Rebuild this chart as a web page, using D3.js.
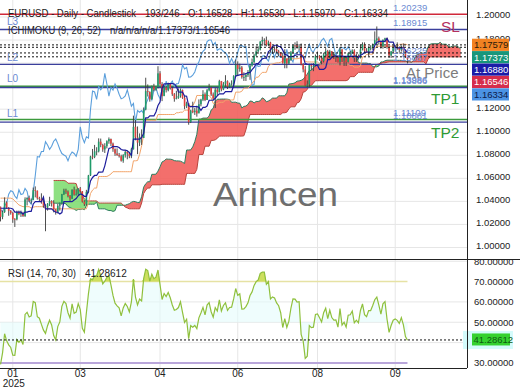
<!DOCTYPE html>
<html>
<head>
<meta charset="utf-8">
<script src="https://cdn.jsdelivr.net/npm/d3@7"></script>
<style>
body { margin: 0; background: #fff; }
svg { display: block; font-family: "Liberation Sans", Arial, sans-serif; }
</style>
</head>
<body>
<script>
// history before the first visible bar (only feeds the indicators)
const preClose = [1.1132,1.1116,1.1117,1.1162,1.1163,1.1112,1.1178,1.1133,1.1177,1.1164,1.1135,
  1.1068,1.1046,1.1032,1.0974,1.0975,1.0978,1.0942,1.0936,1.0937,1.0910,1.0891,1.0862,1.0833,1.0867,1.0817,1.0798,1.0782,1.0829,1.0797,1.0815,1.0817,1.0855,1.0884,
  1.0834,1.0880,1.0930,1.0729,1.0800,1.0720,1.0655,1.0625,1.0565,1.0530,1.0541,1.0597,1.0596,1.0543,1.0472,1.0418,1.0496,1.0487,1.0566,1.0551,1.0577,
  1.0497,1.0512,1.0512,1.0586,1.0567,1.0554,1.0529,1.0496,1.0469,1.0502,1.0512,1.0490,1.0352,1.0364,1.0430,1.0405,1.0406,1.0400,1.0422,1.0428,1.0405,1.0354];
const preHigh = [1.1140,1.1150,1.1190,1.1180,1.1180,1.1170,1.1190,1.1214,1.1190,1.1200,1.1180,
  1.1145,1.1085,1.1055,1.1045,1.0990,1.0990,1.0985,1.0950,1.0950,1.0945,1.0915,1.0900,1.0870,1.0870,1.0870,1.0835,1.0800,1.0840,1.0840,1.0825,1.0830,1.0870,1.0885,
  1.0905,1.0905,1.0937,1.0930,1.0810,1.0805,1.0730,1.0665,1.0630,1.0580,1.0575,1.0610,1.0610,1.0610,1.0550,1.0475,1.0530,1.0510,1.0575,1.0580,1.0595,
  1.0570,1.0545,1.0545,1.0600,1.0630,1.0595,1.0560,1.0545,1.0510,1.0525,1.0525,1.0530,1.0505,1.0420,1.0445,1.0445,1.0420,1.0415,1.0445,1.0455,1.0455,1.0420];
const preLow = [1.1070,1.1105,1.1090,1.1085,1.1140,1.1085,1.1105,1.1120,1.1120,1.1150,1.1130,
  1.1045,1.1030,1.1005,1.0950,1.0955,1.0955,1.0935,1.0915,1.0920,1.0905,1.0880,1.0855,1.0810,1.0825,1.0810,1.0790,1.0761,1.0775,1.0790,1.0790,1.0790,1.0810,1.0840,
  1.0830,1.0850,1.0870,1.0682,1.0710,1.0710,1.0650,1.0595,1.0560,1.0496,1.0510,1.0525,1.0530,1.0525,1.0460,1.0335,1.0425,1.0425,1.0480,1.0540,1.0540,
  1.0460,1.0490,1.0470,1.0505,1.0545,1.0535,1.0510,1.0480,1.0455,1.0450,1.0485,1.0475,1.0345,1.0345,1.0345,1.0385,1.0380,1.0390,1.0390,1.0405,1.0390,1.0345];

// visible daily bars
const close = [1.0266,1.0308,1.0390,1.0345,1.0318,1.0300,1.0245,1.0244,1.0307,1.0290,
  1.0300,1.0273,1.0417,1.0430,1.0407,1.0413,1.0497,1.0492,1.0428,1.0421,
  1.0391,1.0362,1.0345,1.0378,1.0403,1.0382,1.0330,1.0307,1.0362,1.0383,
  1.0463,1.0493,1.0484,1.0447,1.0424,1.0500,1.0459,1.0465,1.0512,1.0487,
  1.0398,1.0376,1.0482,1.0625,1.0789,1.0785,1.0833,1.0834,1.0918,1.0890,
  1.0851,1.0879,1.0922,1.0941,1.0901,1.0853,1.0815,1.0802,1.0792,1.0753,
  1.0801,1.0829,1.0816,1.0792,1.0852,1.1047,1.0955,1.0910,1.0961,1.0950,
  1.1197,1.1357,1.1349,1.1285,1.1397,1.1369,1.1392,1.1511,1.1419,1.1313,
  1.1389,1.1366,1.1418,1.1381,1.1330,1.1291,1.1298,1.1315,1.1367,1.1299,
  1.1226,1.1250,1.1088,1.1188,1.1174,1.1188,1.1163,1.1243,1.1283,1.1330,
  1.1280,1.1364,1.1386,1.1328,1.1292,1.1369,1.1347,1.1443,1.1371,1.1420,
  1.1443,1.1397,1.1420,1.1422,1.1487,1.1585,1.1549,1.1562,1.1478,1.1480,
  1.1496,1.1523,1.1579,1.1609,1.1666,1.1702,1.1718,1.1787,1.1800,1.1800,
  1.1756,1.1779,1.1710,1.1724,1.1720,1.1701,1.1690,1.1663,1.1598,1.1639,
  1.1597,1.1626,1.1694,1.1753,1.1752,1.1740,1.1742,1.1589,1.1545,1.1405,
  1.1415,1.1587,1.1572,1.1575,1.1660,1.1664,1.1641,1.1617,1.1675,1.1705,
  1.1648,1.1703,1.1662,1.1648,1.1649,1.1610,1.1719,1.1622,1.1640,1.1609,
  1.1683,1.1686,1.1710,1.1645,1.1660,1.1646,1.1718,1.1762,1.1707,1.1696,
  1.1733,1.1733,1.1762,1.1798,1.1814,1.1783,1.1745,1.1802,1.1815,1.1738,
  1.1666,1.1701,1.1729,1.1735,1.1729,1.1715,1.1741,1.1710,1.16528,1.16334];
const high = [1.0354,1.0320,1.0435,1.0400,1.0350,1.0325,1.0310,1.0255,1.0320,1.0320,
  1.0320,1.0310,1.0435,1.0435,1.0450,1.0425,1.0520,1.0530,1.0495,1.0440,
  1.0470,1.0440,1.0375,1.0385,1.0440,1.0410,1.0410,1.0335,1.0380,1.0390,
  1.0465,1.0510,1.0510,1.0495,1.0455,1.0505,1.0528,1.0505,1.0515,1.0525,
  1.0490,1.0410,1.0500,1.0630,1.0796,1.0855,1.0890,1.0870,1.0947,1.0945,
  1.0900,1.0905,1.0930,1.0955,1.0945,1.0910,1.0860,1.0860,1.0820,1.0805,
  1.0810,1.0845,1.0840,1.0830,1.0865,1.1144,1.1105,1.1050,1.0990,1.1025,
  1.1215,1.1473,1.1415,1.1355,1.1405,1.1420,1.1395,1.1573,1.1530,1.1435,
  1.1405,1.1395,1.1430,1.1425,1.1395,1.1340,1.1360,1.1380,1.1380,1.1370,
  1.1315,1.1265,1.1250,1.1195,1.1265,1.1210,1.1230,1.1285,1.1290,1.1365,
  1.1345,1.1375,1.1420,1.1395,1.1345,1.1385,1.1385,1.1455,1.1445,1.1435,
  1.1495,1.1450,1.1430,1.1450,1.1495,1.1631,1.1615,1.1595,1.1575,1.1520,
  1.1510,1.1540,1.1585,1.1640,1.1680,1.1745,1.1745,1.1790,1.1829,1.1815,
  1.1830,1.1795,1.1785,1.1740,1.1745,1.1755,1.1715,1.1695,1.1690,1.1720,
  1.1640,1.1660,1.1705,1.1760,1.1780,1.1790,1.1765,1.1770,1.1600,1.1575,
  1.1450,1.1595,1.1595,1.1600,1.1675,1.1700,1.1670,1.1665,1.1690,1.1730,
  1.1715,1.1715,1.1705,1.1695,1.1665,1.1660,1.1740,1.1720,1.1660,1.1655,
  1.1690,1.1705,1.1720,1.1720,1.1680,1.1675,1.1760,1.1780,1.1780,1.1730,
  1.1745,1.1755,1.1770,1.1875,1.1918,1.1830,1.1795,1.1805,1.1820,1.1820,
  1.1745,1.1705,1.1755,1.1755,1.1780,1.1745,1.1750,1.1770,1.1715,1.16530];
const low = [1.0226,1.0245,1.0300,1.0335,1.0275,1.0285,1.0214,1.0178,1.0235,1.0280,
  1.0265,1.0265,1.0265,1.0365,1.0395,1.0380,1.0410,1.0435,1.0415,1.0400,
  1.0380,1.0345,1.0141,1.0320,1.0360,1.0355,1.0305,1.0285,1.0295,1.0320,
  1.0370,1.0455,1.0465,1.0435,1.0400,1.0420,1.0450,1.0450,1.0455,1.0475,
  1.0390,1.0360,1.0365,1.0470,1.0620,1.0765,1.0775,1.0800,1.0825,1.0870,
  1.0830,1.0820,1.0860,1.0900,1.0880,1.0830,1.0795,1.0795,1.0780,1.0745,
  1.0735,1.0780,1.0765,1.0775,1.0775,1.0850,1.0930,1.0810,1.0880,1.0890,
  1.0950,1.1190,1.1310,1.1265,1.1285,1.1355,1.1360,1.1380,1.1405,1.1270,
  1.1315,1.1345,1.1355,1.1370,1.1315,1.1265,1.1285,1.1290,1.1300,1.1290,
  1.1200,1.1210,1.1065,1.1080,1.1165,1.1150,1.1135,1.1170,1.1225,1.1270,
  1.1270,1.1280,1.1355,1.1315,1.1280,1.1210,1.1315,1.1345,1.1355,1.1365,
  1.1395,1.1375,1.1385,1.1405,1.1405,1.1480,1.1490,1.1525,1.1465,1.1445,
  1.1445,1.1480,1.1455,1.1570,1.1595,1.1660,1.1680,1.1710,1.1750,1.1760,
  1.1745,1.1750,1.1690,1.1680,1.1690,1.1690,1.1660,1.1655,1.1595,1.1555,
  1.1555,1.1590,1.1620,1.1680,1.1715,1.1725,1.1710,1.1580,1.1520,1.1400,
  1.1391,1.1390,1.1540,1.1530,1.1570,1.1630,1.1620,1.1590,1.1605,1.1665,
  1.1630,1.1640,1.1650,1.1635,1.1610,1.1605,1.1580,1.1610,1.1575,1.1575,
  1.1605,1.1655,1.1680,1.1610,1.1610,1.1630,1.1640,1.1710,1.1695,1.1690,
  1.1660,1.1710,1.1715,1.1760,1.1760,1.1760,1.1725,1.1725,1.1780,1.1725,
  1.1645,1.1645,1.1690,1.1700,1.1715,1.1690,1.1700,1.1650,1.1645,1.15970];

// axis ticks
const priceTicks = [1.00, 1.02, 1.04, 1.06, 1.08, 1.10, 1.12, 1.14, 1.16, 1.18, 1.20];
const rsiTicks = [30, 40, 50, 60, 70, 80];
const monthTickBars = [6, 39, 78, 116, 155, 193];
const monthTickLabels = ["01", "03", "04", "06", "08", "09"];

// horizontal levels and current-value tags
const levelValues = [1.20239, 1.18915, 1.15887, 1.13986, 1.13886, 1.11109, 1.10881];
const levelColors = ["#d0283a", "#3b3f9c", "#3b3f9c", "#3c9a3c", "#3b3f9c", "#3c9a3c", "#3b3f9c"];
const extraLevelTexts = [1.16225];
const tagValues = [1.17579, 1.17373, 1.16880, 1.16546, 1.16334];
const tagFill = ["#f28222", "#17967a", "#1b1ba8", "#d62d4c", "#4b93e4"];
const tagText = ["#2a1a0a", "#ffffff", "#ffffff", "#ffffff", "#0d1b4a"];
const dottedValues = [1.17579, 1.17373, 1.16880, 1.16546];
const rsiLast = 41.28612;

const plotR = 467, priceB = 259, rsiT = 259, rsiB = 368;

let svg = d3.select("body").append("svg")
    .attr("width", 520)
    .attr("height", 390);

let x = d3.scaleLinear().domain([-0.25, 228.1]).range([0, plotR]);
let yP = d3.scaleLinear().domain([0.99, 1.21475]).range([priceB, 0]);
let yR = d3.scaleLinear().domain([27.5, 81.1]).range([rsiB, rsiT]);

// ichimoku + rsi from the bars
const P = preClose.length;
const allH = preHigh.concat(high), allL = preLow.concat(low), allC = preClose.concat(close);
function mid(end, n) {
    let s = Math.max(0, end - n + 1);
    return (d3.max(allH.slice(s, end + 1)) + d3.min(allL.slice(s, end + 1))) / 2;
}
let bars = close.map((c, i) => ({ i: i, o: allC[P + i - 1], h: high[i], l: low[i], c: c }));
let tenkan = close.map((c, i) => ({ i: i, v: mid(P + i, 9) }));
let kijun = close.map((c, i) => ({ i: i, v: mid(P + i, 26) }));
let cloud = close.map((c, j) => ({ i: j + 26, a: (mid(P + j, 9) + mid(P + j, 26)) / 2, b: mid(P + j, 52) }));
let chikou = close.slice(26).map((c, k) => ({ i: k, v: c }));

let ag = 0, al = 0, rsiAll = [];
for (let k = 1; k < allC.length; k++) {
    let ch = allC[k] - allC[k - 1];
    let g = Math.max(ch, 0), l = Math.max(-ch, 0);
    if (k <= 14) { ag += g / 14; al += l / 14; }
    else { ag = (ag * 13 + g) / 14; al = (al * 13 + l) / 14; }
    rsiAll[k] = k >= 14 ? 100 - 100 / (1 + ag / al) : null;
}
let rsi = close.map((c, i) => ({ i: i, v: rsiAll[P + i] }));

let defs = svg.append("defs");
defs.append("clipPath").attr("id", "cp").append("rect")
    .attr("x", 0).attr("y", 0).attr("width", plotR).attr("height", priceB);
defs.append("clipPath").attr("id", "cr").append("rect")
    .attr("x", 0).attr("y", rsiT).attr("width", plotR).attr("height", rsiB - rsiT);

// grid
let grid = svg.append("g").attr("stroke", "#e6e6e6").attr("stroke-width", 1);
grid.selectAll(".gv").data(monthTickBars).enter().append("line")
    .attr("x1", d => x(d)).attr("x2", d => x(d))
    .attr("y1", 0).attr("y2", rsiB);
grid.selectAll(".gp").data(priceTicks).enter().append("line")
    .attr("x1", 0).attr("x2", plotR)
    .attr("y1", d => yP(d)).attr("y2", d => yP(d));
grid.selectAll(".gr").data([40, 50, 60, 80]).enter().append("line")
    .attr("x1", 0).attr("x2", plotR)
    .attr("y1", d => yR(d)).attr("y2", d => yR(d));

// price panel
let pg = svg.append("g").attr("clip-path", "url(#cp)");

pg.append("path").datum(cloud)
    .attr("fill", "#f25f5c").attr("fill-opacity", 0.9)
    .attr("d", d3.area().x(d => x(d.i)).y0(d => yP(d.b)).y1(d => yP(Math.max(d.a, d.b))));
pg.append("path").datum(cloud)
    .attr("fill", "#72d862").attr("fill-opacity", 0.8)
    .attr("d", d3.area().x(d => x(d.i)).y0(d => yP(d.a)).y1(d => yP(Math.max(d.a, d.b))));
pg.append("path").datum(cloud)
    .attr("fill", "none").attr("stroke", "#2d7d5e").attr("stroke-width", 1)
    .attr("d", d3.line().x(d => x(d.i)).y(d => yP(d.a)));
pg.append("path").datum(cloud)
    .attr("fill", "none").attr("stroke", "#b8443c").attr("stroke-width", 1)
    .attr("d", d3.line().x(d => x(d.i)).y(d => yP(d.b)));

pg.selectAll(".lvl").data(levelValues).enter().append("line")
    .attr("x1", 0).attr("x2", plotR)
    .attr("y1", d => yP(d)).attr("y2", d => yP(d))
    .attr("stroke", (d, i) => levelColors[i])
    .attr("stroke-width", 1.4);

pg.append("path").datum(chikou)
    .attr("fill", "none").attr("stroke", "#5b9fdc").attr("stroke-width", 1.1)
    .attr("d", d3.line().x(d => x(d.i)).y(d => yP(d.v)));
pg.append("path").datum(kijun)
    .attr("fill", "none").attr("stroke", "#f2a56b").attr("stroke-width", 1)
    .attr("d", d3.line().x(d => x(d.i)).y(d => yP(d.v)));

let cg = pg.append("g");
cg.selectAll(".wick").data(bars).enter().append("line")
    .attr("x1", d => x(d.i)).attr("x2", d => x(d.i))
    .attr("y1", d => yP(d.h)).attr("y2", d => yP(d.l))
    .attr("stroke", "#3a3a3a").attr("stroke-width", 0.9);
cg.selectAll(".body").data(bars).enter().append("rect")
    .attr("x", d => x(d.i) - 0.8)
    .attr("width", 1.6)
    .attr("y", d => yP(Math.max(d.o, d.c)))
    .attr("height", d => Math.max(0.8, Math.abs(yP(d.o) - yP(d.c))))
    .attr("fill", d => d.c >= d.o ? "#1f9b6a" : "#e0403c");

pg.append("path").datum(tenkan)
    .attr("fill", "none").attr("stroke", "#1c1c9c").attr("stroke-width", 1.2)
    .attr("d", d3.line().x(d => x(d.i)).y(d => yP(d.v)));

pg.selectAll(".dot").data(dottedValues).enter().append("line")
    .attr("x1", 0).attr("x2", plotR)
    .attr("y1", d => yP(d)).attr("y2", d => yP(d))
    .attr("stroke", "#111").attr("stroke-width", 1)
    .attr("stroke-dasharray", "2,2");

// watermark
svg.append("text")
    .attr("x", 213).attr("y", 206)
    .attr("font-size", 33).attr("fill", "#6e6e6e")
    .attr("textLength", 125).attr("lengthAdjust", "spacingAndGlyphs")
    .text("Arincen");

// level texts
let lt = svg.append("g").attr("font-size", 9.5).attr("fill", "#6b8ad2");
lt.selectAll(".lv").data(levelValues).enter().append("text")
    .attr("x", 393)
    .attr("y", d => yP(d) - 3.5)
    .text(d => d3.format(".5f")(d));
lt.selectAll(".lx").data(extraLevelTexts).enter().append("text")
    .attr("x", 393)
    .attr("y", d => yP(d) - 7)
    .text(d => d3.format(".5f")(d));
lt.append("text").attr("x", 7).attr("y", yP(levelValues[1]) - 5).attr("font-size", 10).text("L3");
lt.append("text").attr("x", 7).attr("y", yP(levelValues[2]) - 3).attr("font-size", 10).text("L2");
lt.append("text").attr("x", 7).attr("y", yP(levelValues[3]) - 4.5).attr("font-size", 10).text("L0");
lt.append("text").attr("x", 7).attr("y", yP(levelValues[5]) - 2).attr("font-size", 10).text("L1");

svg.append("text").attr("x", 406).attr("y", 77.5)
    .attr("font-size", 15).attr("fill", "#7c7c7c").text("At Price");
svg.append("text").attr("x", 441).attr("y", 32)
    .attr("font-size", 15.5).attr("fill", "#b4305e").text("SL");
svg.append("text").attr("x", 431).attr("y", 103.5)
    .attr("font-size", 15.5).attr("fill", "#2f9a34").text("TP1");
svg.append("text").attr("x", 431).attr("y", 137.5)
    .attr("font-size", 15.5).attr("fill", "#2f9a34").text("TP2");

// headers
let hd = svg.append("g").attr("font-size", 10).attr("fill", "#222");
hd.append("text").attr("x", 8).attr("y", 16.5)
    .attr("textLength", 128).attr("lengthAdjust", "spacingAndGlyphs")
    .text("EURUSD - Daily - Candlestick");
hd.append("text").attr("x", 145).attr("y", 16.5)
    .attr("textLength", 243).attr("lengthAdjust", "spacingAndGlyphs")
    .text("193/246 - O:1.16528 - H:1.16530 - L:1.15970 - C:1.16334");
hd.append("text").attr("x", 8).attr("y", 33.5)
    .attr("textLength", 93).attr("lengthAdjust", "spacingAndGlyphs")
    .text("ICHIMOKU (9, 26, 52)");
hd.append("text").attr("x", 110).attr("y", 33.5)
    .attr("textLength", 120).attr("lengthAdjust", "spacingAndGlyphs")
    .text("n/a/n/a/n/a/1.17373/1.16546");

// RSI panel
let rg = svg.append("g").attr("clip-path", "url(#cr)");
rg.append("path").datum(rsi)
    .attr("fill", "#e4fbfb").attr("fill-opacity", 0.6)
    .attr("d", d3.area().x(d => x(d.i)).y0(yR(50)).y1(d => yR(d.v)));
rg.append("line").attr("x1", 0).attr("x2", x(199))
    .attr("y1", yR(70)).attr("y2", yR(70))
    .attr("stroke", "#e6e2a4").attr("stroke-width", 1.6);
rg.append("line").attr("x1", 0).attr("x2", x(199))
    .attr("y1", yR(30)).attr("y2", yR(30))
    .attr("stroke", "#b9a6da").attr("stroke-width", 2);
rg.append("path").datum(rsi)
    .attr("fill", "#c9dc4e").attr("fill-opacity", 0.9)
    .attr("d", d3.area().x(d => x(d.i)).y0(yR(70)).y1(d => yR(Math.max(d.v, 70))));
rg.append("path").datum(rsi)
    .attr("fill", "none").attr("stroke", "#8fc03c").attr("stroke-width", 1.2)
    .attr("d", d3.line().x(d => x(d.i)).y(d => yR(d.v)));
svg.append("line").attr("x1", 0).attr("x2", plotR)
    .attr("y1", yR(rsiLast)).attr("y2", yR(rsiLast))
    .attr("stroke", "#111").attr("stroke-dasharray", "2,2");

svg.append("text").attr("x", 8).attr("y", 276.5)
    .attr("font-size", 10).attr("fill", "#222")
    .attr("textLength", 68).attr("lengthAdjust", "spacingAndGlyphs")
    .text("RSI (14, 70, 30)");
svg.append("text").attr("x", 85).attr("y", 276.5)
    .attr("font-size", 10).attr("fill", "#222")
    .text(d3.format(".5f")(rsiLast));

// value tags (stacked so they do not overlap)
let prevBottom = -Infinity;
let tags = tagValues.map((v, i) => {
    let top = Math.max(yP(v) - 6.2, prevBottom);
    prevBottom = top + 12.4;
    return { v: v, i: i, top: top };
});
let tagTop = tags[0].top, tagBottom = prevBottom;
let rsiBoxTop = yR(rsiLast) - 9, rsiBoxBottom = yR(rsiLast) + 9;

// right axes (labels hidden behind the tags are left out)
let ax = svg.append("g").attr("font-size", 9.5).attr("fill", "#222");
ax.selectAll(".pt").data(priceTicks.filter(d => yP(d) - 2 < tagTop || yP(d) - 2 > tagBottom))
    .enter().append("text")
    .attr("x", 476).attr("y", d => yP(d) + 1.5)
    .text(d => d3.format(".5f")(d));
ax.selectAll(".rt").data(rsiTicks.filter(d => yR(d) < rsiBoxTop || yR(d) > rsiBoxBottom))
    .enter().append("text")
    .attr("x", 474).attr("y", d => yR(d) + 3.5)
    .text(d => d3.format(".5f")(d));

let tg = svg.append("g");
tg.selectAll("rect").data(tags).enter().append("rect")
    .attr("x", 472).attr("y", d => d.top)
    .attr("width", 37).attr("height", 12.2)
    .attr("fill", d => tagFill[d.i]);
tg.selectAll("text").data(tags).enter().append("text")
    .attr("x", 474).attr("y", d => d.top + 9.6)
    .attr("font-size", 9.5)
    .attr("fill", d => tagText[d.i])
    .text(d => d3.format(".5f")(d.v));

svg.append("rect").attr("x", 463).attr("y", rsiBoxTop)
    .attr("width", 50).attr("height", 18).attr("fill", "#d4fbfb");
svg.append("rect").attr("x", 472).attr("y", yR(rsiLast) - 6.5)
    .attr("width", 38).attr("height", 12).attr("fill", "#35d12f");
svg.append("text").attr("x", 473.5).attr("y", yR(rsiLast) + 3.5)
    .attr("font-size", 9.5).attr("fill", "#0d5c12")
    .text(d3.format(".5f")(rsiLast));

// frame
let fr = svg.append("g").attr("stroke", "#222").attr("stroke-width", 1);
fr.append("line").attr("x1", plotR + 0.5).attr("x2", plotR + 0.5).attr("y1", 0).attr("y2", rsiB);
fr.append("line").attr("x1", 0).attr("x2", 520).attr("y1", priceB + 0.5).attr("y2", priceB + 0.5);
fr.append("line").attr("x1", 0).attr("x2", plotR).attr("y1", rsiB + 0.5).attr("y2", rsiB + 0.5);

// x axis labels
let xl = svg.append("g").attr("font-size", 10).attr("fill", "#222").attr("text-anchor", "middle");
xl.selectAll("text").data(monthTickBars).enter().append("text")
    .attr("x", d => x(d)).attr("y", 377)
    .text((d, i) => monthTickLabels[i]);
xl.append("text").attr("x", x(monthTickBars[0]) + 1).attr("y", 387).text("2025");
</script>
</body>
</html>
